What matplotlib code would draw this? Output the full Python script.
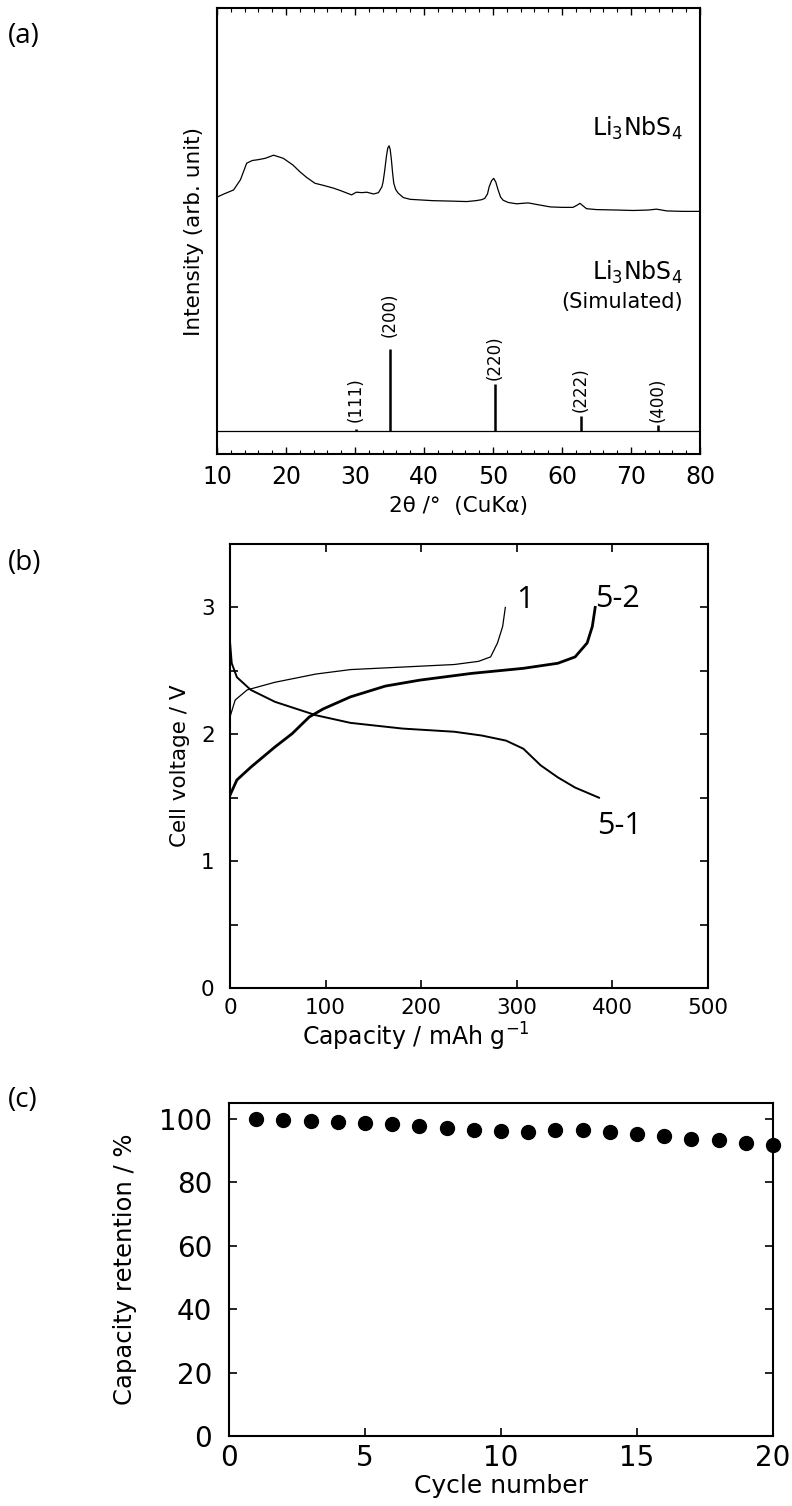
import numpy as np
import matplotlib
matplotlib.use("Agg")
import matplotlib.pyplot as plt
from matplotlib.ticker import MultipleLocator

W, H = 792, 1506

xrd_2theta = [10.0, 11.0, 12.4, 13.4, 14.3, 15.1, 16.0, 17.0, 18.2, 19.6, 21.0, 22.0,
              23.0, 24.2, 25.5, 26.9, 28.0, 29.5, 30.2, 31.0, 31.7, 32.7, 33.4, 33.9,
              34.07, 34.3, 34.55, 34.75, 34.94, 35.1, 35.28, 35.45, 35.62, 35.9, 36.25,
              37.0, 38.0, 41.3, 44.0, 46.2, 47.5, 48.3, 48.8, 49.2, 49.44, 49.8, 50.1,
              50.4, 50.74, 51.1, 51.47, 52.2, 53.4, 55.1, 56.5, 58.3, 60.0, 61.6, 62.2,
              62.6, 63.0, 63.55, 65.0, 68.0, 70.3, 72.5, 73.7, 75.2, 77.5, 80.0]
xrd_int = [57.6, 58.3, 59.2, 61.5, 65.2, 65.8, 66.0, 66.3, 67.0, 66.3, 64.8, 63.3,
           62.0, 60.7, 60.2, 59.6, 59.0, 58.1, 58.7, 58.6, 58.7, 58.3, 58.6, 59.9,
           61.0, 63.5, 66.7, 68.6, 69.1, 68.3, 65.9, 63.0, 60.7, 59.3, 58.5,
           57.5, 57.1, 56.8, 56.7, 56.6, 56.8, 57.0, 57.3, 58.3, 59.9, 61.3, 61.8,
           61.0, 59.2, 57.6, 56.9, 56.4, 56.1, 56.3, 55.9, 55.4, 55.3, 55.3, 55.8,
           56.2, 55.7, 55.0, 54.8, 54.7, 54.6, 54.7, 54.9, 54.5, 54.4, 54.4]

# (a) simulated pattern
sim_base = 5.2
sim_pos = [30.1, 35.07, 50.3, 62.75, 73.9]
sim_height = [5.6, 23.5, 15.6, 8.6, 6.5]
sim_hkl = ["(111)", "(200)", "(220)", "(222)", "(400)"]
sim_label_y = [7.2, 26.2, 16.6, 9.4, 7.2]

# (b) charge / discharge curves, capacity (mAh/g) and voltage (V)
c1_cap = [0, 5.4, 18, 47, 90, 126, 180.5, 234.7, 260, 272.6, 279.8, 285.2, 288]
c1_volt = [2.137, 2.27, 2.35, 2.41, 2.475, 2.51, 2.53, 2.55, 2.575, 2.61, 2.72, 2.85, 3.0]

d5_cap = [0, 1.8, 7.2, 21.7, 47, 90, 126, 180.5, 234.7, 263.5, 288.8, 306.9, 325, 343, 361, 386]
d5_volt = [2.73, 2.56, 2.45, 2.35, 2.256, 2.15, 2.09, 2.045, 2.02, 1.99, 1.95, 1.886, 1.755,
           1.66, 1.58, 1.5]

c5_cap = [0, 7.2, 21.7, 47, 65, 83, 97.5, 126, 162.5, 198.6, 252.7, 306.9, 343, 361, 373.6,
          379, 382]
c5_volt = [1.52, 1.64, 1.74, 1.90, 2.005, 2.137, 2.20, 2.295, 2.38, 2.427, 2.48, 2.52, 2.56,
           2.61, 2.72, 2.85, 3.0]

# (c) capacity retention
cycles = list(range(1, 21))
retention = [100.0, 99.5, 99.4, 99.1, 98.7, 98.4, 97.8, 97.2, 96.5, 96.1,
             95.8, 96.5, 96.6, 96.0, 95.1, 94.5, 93.7, 93.3, 92.4, 91.6]


def box(x0, y0, x1, y1):
    # pixel box (top-left origin) -> figure fraction rect
    return [x0 / W, 1 - y1 / H, (x1 - x0) / W, (y1 - y0) / H]


plt.rcParams["font.family"] = ["DejaVu Sans"]
plt.rcParams["mathtext.default"] = "regular"
plt.rcParams["axes.linewidth"] = 1.5

fig = plt.figure(figsize=(W / 100, H / 100), dpi=100)
label_font = dict(family="Open Sans", fontsize=20)

# ---------------- (a)
ax1 = fig.add_axes(box(217, 8, 700, 454))
ax1.plot(xrd_2theta, xrd_int, color="black", lw=0.9)
ax1.hlines(sim_base, 10, 80, color="black", lw=0.9)
ax1.vlines(sim_pos, sim_base, sim_height, color="black", lw=1.8)
for p, lab, ly in zip(sim_pos, sim_hkl, sim_label_y):
    ax1.text(p, ly, lab, rotation=90, ha="center", va="bottom", fontsize=12)
ax1.text(77.5, 73, "Li$_3$NbS$_4$", ha="right", va="center", fontsize=17)
ax1.text(77.5, 40.8, "Li$_3$NbS$_4$", ha="right", va="center", fontsize=17)
ax1.text(77.5, 34.0, "(Simulated)", ha="right", va="center", fontsize=15)
ax1.set_xlim(10, 80)
ax1.set_ylim(0, 100)
ax1.set_yticks([])
ax1.xaxis.set_major_locator(MultipleLocator(10))
ax1.xaxis.set_minor_locator(MultipleLocator(2))
ax1.tick_params(axis="x", which="both", direction="in", top=True, labelsize=17, pad=8)
ax1.tick_params(axis="x", which="major", length=5, width=1)
ax1.tick_params(axis="x", which="minor", length=3, width=0.8)
ax1.set_xlabel("2θ /°  (CuKα)", fontsize=15.5, labelpad=5)
ax1.set_ylabel("Intensity (arb. unit)", fontsize=15.5, labelpad=9)
fig.text(8 / W, 1 - 36 / H, "(a)", va="center", **label_font)

# ---------------- (b)
ax2 = fig.add_axes(box(230, 544, 708, 988))
ax2.plot(c1_cap, c1_volt, color="black", lw=0.9)
ax2.plot(d5_cap, d5_volt, color="black", lw=1.4)
ax2.plot(c5_cap, c5_volt, color="black", lw=2.0)
ax2.text(309, 3.055, "1", ha="center", va="center", family="Open Sans", fontsize=22)
ax2.text(405, 3.07, "5-2", ha="center", va="center", family="Open Sans", fontsize=22)
ax2.text(407, 1.276, "5-1", ha="center", va="center", family="Open Sans", fontsize=22)
ax2.set_xlim(0, 500)
ax2.set_ylim(0, 3.5)
ax2.set_xticks([0, 100, 200, 300, 400, 500])
yt = np.arange(0, 3.01, 0.5)
ax2.set_yticks(yt)
ax2.set_yticklabels([f"{v:g}" if v == int(v) else "" for v in yt])
ax2.tick_params(direction="in", top=True, right=True, length=6, width=1.2, labelsize=15.5)
ax2.tick_params(axis="x", pad=7)
ax2.tick_params(axis="y", pad=11)
ax2.set_xlabel("Capacity / mAh g$^{-1}$", fontsize=17, labelpad=0)
ax2.xaxis.set_label_coords((416 - 230) / 478, -0.073)
ax2.set_ylabel("Cell voltage / V", fontsize=15.5, labelpad=8)
fig.text(8 / W, 1 - 563 / H, "(b)", va="center", **label_font)

# ---------------- (c)
ax3 = fig.add_axes(box(229, 1103, 773, 1436))
ax3.plot(cycles, retention, "o", color="black", ms=10, clip_on=False)
ax3.set_xlim(0, 20)
ax3.set_ylim(0, 105)
ax3.set_xticks([0, 5, 10, 15, 20])
ax3.set_yticks([0, 20, 40, 60, 80, 100])
ax3.tick_params(direction="in", right=True, length=6, width=1.2, labelsize=20)
ax3.tick_params(axis="x", pad=6)
ax3.tick_params(axis="y", pad=12)
ax3.set_xlabel("Cycle number", fontsize=18, labelpad=1)
ax3.set_ylabel("Capacity retention / %", fontsize=17.5, labelpad=16)
fig.text(8 / W, 1 - 1100 / H, "(c)", va="center", **label_font)

fig.savefig("out.png", dpi=100)
